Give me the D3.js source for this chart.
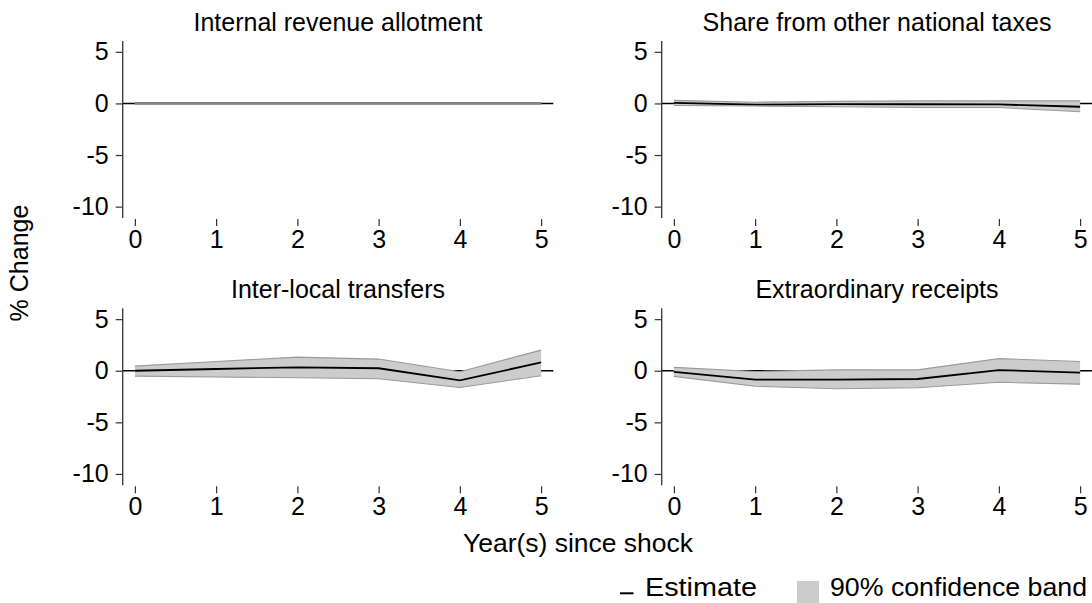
<!DOCTYPE html>
<html>
<head>
<meta charset="utf-8">
<script src="https://cdn.jsdelivr.net/npm/d3@7"></script>
<style>
  html, body { margin: 0; padding: 0; background: #fff; }
  svg text { font-family: "Liberation Sans", Arial, Helvetica, sans-serif; fill: #000; }
</style>
</head>
<body>
<svg id="chart" width="1092" height="603"></svg>
<script>
// Years after the shock
const years = [0, 1, 2, 3, 4, 5];
const yTicks = [5, 0, -5, -10];

const panelTitles = [
  "Internal revenue allotment",
  "Share from other national taxes",
  "Inter-local transfers",
  "Extraordinary receipts"
];

// Point estimates (% change)
const estIRA   = [0, 0, 0, 0, 0, 0];
const estShare = [0.05, -0.12, -0.07, -0.08, -0.1, -0.32];
const estInter = [0.0, 0.17, 0.33, 0.24, -0.93, 0.8];
const estExtra = [-0.1, -0.86, -0.86, -0.8, 0.06, -0.18];

// 90% confidence band, lower bounds
const loIRA   = [-0.04, -0.04, -0.04, -0.04, -0.04, -0.04];
const loShare = [-0.2, -0.25, -0.32, -0.4, -0.4, -0.8];
const loInter = [-0.52, -0.6, -0.68, -0.78, -1.62, -0.48];
const loExtra = [-0.55, -1.5, -1.75, -1.65, -1.12, -1.3];

// 90% confidence band, upper bounds
const hiIRA   = [0.04, 0.04, 0.04, 0.04, 0.04, 0.04];
const hiShare = [0.3, 0.12, 0.2, 0.25, 0.25, 0.25];
const hiInter = [0.45, 0.9, 1.32, 1.13, -0.1, 2.0];
const hiExtra = [0.33, -0.08, 0.1, 0.08, 1.17, 0.9];

const panels = [
  { title: panelTitles[0], est: estIRA,   lo: loIRA,   hi: hiIRA,   x: 122.7, y: 41 },
  { title: panelTitles[1], est: estShare, lo: loShare, hi: hiShare, x: 661.7, y: 41 },
  { title: panelTitles[2], est: estInter, lo: loInter, hi: hiInter, x: 122.7, y: 308.3 },
  { title: panelTitles[3], est: estExtra, lo: loExtra, hi: hiExtra, x: 661.7, y: 308.3 }
];

const W = 430.6, H = 177;
const FS = 25;
const svg = d3.select("#chart");

const x = d3.scaleLinear().domain([-0.15, 5.15]).range([0, W]);
const y = d3.scaleLinear().domain([-11.1, 6.05]).range([H, 0]);

// plain hyphen for negative tick labels
const fmt = d => String(d);

panels.forEach(p => {
  const g = svg.append("g").attr("transform", `translate(${p.x},${p.y})`);
  const rows = years.map((yr, i) => ({ yr, est: p.est[i], lo: p.lo[i], hi: p.hi[i] }));

  // zero reference line
  g.append("line")
    .attr("x1", 0).attr("x2", W)
    .attr("y1", y(0)).attr("y2", y(0))
    .attr("stroke", "#000").attr("stroke-width", 1.4);

  // confidence band
  g.append("path").datum(rows)
    .attr("d", d3.area().x(d => x(d.yr)).y0(d => y(d.lo)).y1(d => y(d.hi)))
    .attr("fill", "#cccccc").attr("stroke", "none");

  // estimate
  g.append("path").datum(rows)
    .attr("d", d3.line().x(d => x(d.yr)).y(d => y(d.est)))
    .attr("fill", "none").attr("stroke", "#000").attr("stroke-width", 1.8);

  // band edges
  [d => d.lo, d => d.hi].forEach(acc => {
    g.append("path").datum(rows)
      .attr("d", d3.line().x(d => x(d.yr)).y(d => y(acc(d))))
      .attr("fill", "none").attr("stroke", "#9a9a9a").attr("stroke-width", 1.1);
  });

  // y axis
  const ya = g.append("g")
    .call(d3.axisLeft(y).tickValues(yTicks).tickSize(7).tickPadding(7).tickFormat(fmt));
  ya.select(".domain").attr("d", `M0,0V${H}`).attr("stroke", "#333").attr("stroke-width", 1.3);
  ya.selectAll(".tick line").attr("stroke", "#333").attr("stroke-width", 1.2);
  ya.selectAll(".tick text").attr("font-size", FS).attr("font-family", null).attr("fill", "#000");

  // x axis (ticks only)
  const xa = g.append("g").attr("transform", `translate(0,${H + 1})`)
    .call(d3.axisBottom(x).tickValues(years).tickSize(7).tickPadding(4).tickFormat(fmt));
  xa.select(".domain").remove();
  xa.selectAll(".tick line").attr("stroke", "#333").attr("stroke-width", 1.2);
  xa.selectAll(".tick text").attr("font-size", FS).attr("font-family", null).attr("fill", "#000");

  // panel title
  g.append("text")
    .attr("x", W / 2).attr("y", -10.5)
    .attr("text-anchor", "middle")
    .attr("font-size", FS)
    .text(p.title);
});

// shared axis titles
svg.append("text")
  .attr("transform", "translate(28,263) rotate(-90)")
  .attr("text-anchor", "middle")
  .attr("font-size", FS)
  .text("% Change");

svg.append("text")
  .attr("x", 463).attr("y", 551.7)
  .attr("font-size", 26)
  .attr("textLength", 230).attr("lengthAdjust", "spacingAndGlyphs")
  .text("Year(s) since shock");

// legend
const lg = svg.append("g");
lg.append("line")
  .attr("x1", 620).attr("x2", 633.5).attr("y1", 593.3).attr("y2", 593.3)
  .attr("stroke", "#000").attr("stroke-width", 2);
lg.append("text").attr("x", 645).attr("y", 596).attr("font-size", 26)
  .attr("textLength", 112).attr("lengthAdjust", "spacingAndGlyphs")
  .text("Estimate");
lg.append("rect")
  .attr("x", 797).attr("y", 581).attr("width", 22).attr("height", 22)
  .attr("fill", "#cccccc");
lg.append("text").attr("x", 830).attr("y", 596).attr("font-size", 26)
  .attr("textLength", 257).attr("lengthAdjust", "spacingAndGlyphs")
  .text("90% confidence band");
</script>
</body>
</html>
